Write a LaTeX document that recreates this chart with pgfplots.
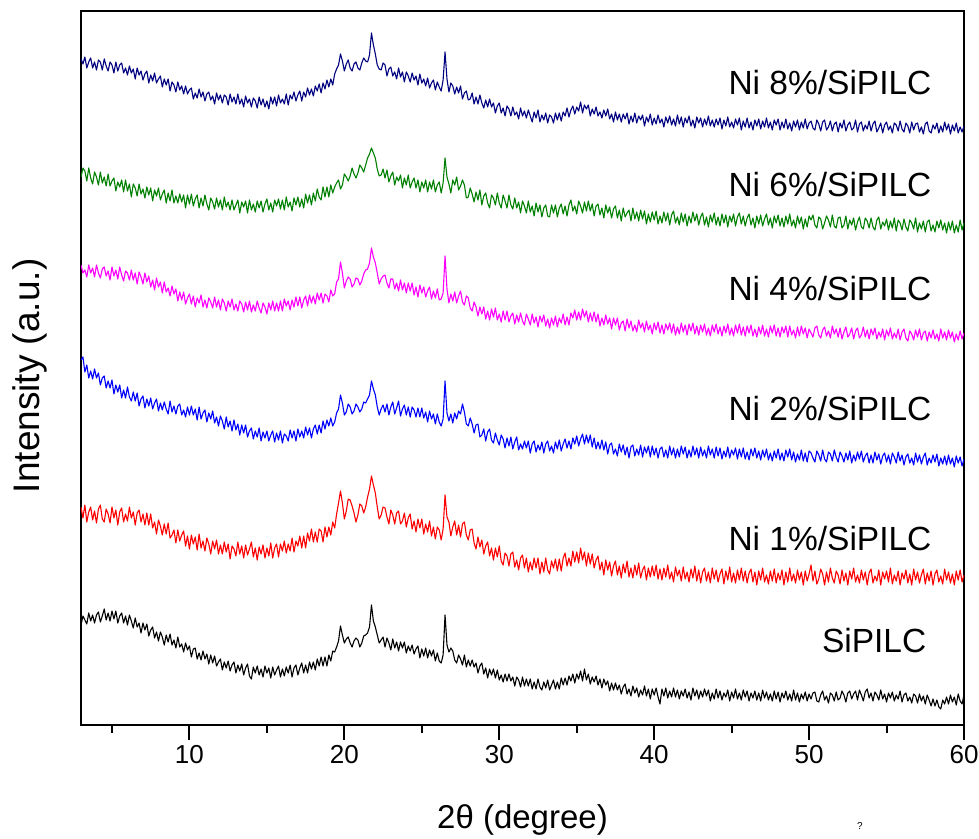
\documentclass[border=0pt]{standalone}
\usepackage{fontspec}
\setmainfont{Liberation Sans}
\usepackage{pgfplots}
\usepackage{pgfplotstable}
\pgfplotsset{compat=1.18}
\definecolor{navyc}{RGB}{0,0,128}
\definecolor{greenc}{RGB}{0,128,0}
\definecolor{magc}{RGB}{255,0,255}
\definecolor{bluec}{RGB}{0,0,255}
\definecolor{redc}{RGB}{255,0,0}
% columns: a = Ni 8%, b = Ni 6%, c = Ni 4%, d = Ni 2%, e = Ni 1%, f = SiPILC (offset intensities)
\pgfplotstableread{
x a b c d e f
3.000 666 548 460 365 218 100
3.125 661 557 452 368 207 109
3.250 668 554 455 353 220 105
3.375 657 544 448 360 203 101
3.500 663 557 460 347 213 112
3.625 667 547 452 354 218 104
3.750 657 541 457 346 205 110
3.875 663 553 448 356 214 102
4.000 655 548 460 347 202 110
4.125 665 540 452 352 216 113
4.250 663 553 447 340 220 103
4.375 655 542 456 347 206 109
4.500 666 548 458 349 203 116
4.625 659 539 449 337 216 105
4.750 654 551 454 344 211 112
4.875 663 539 445 337 202 104
5.000 660 544 458 345 218 114
5.125 652 547 449 331 207 106
5.250 663 534 455 340 215 114
5.375 654 543 446 333 200 102
5.500 660 538 458 340 213 109
5.625 662 545 450 327 217 112
5.750 652 533 444 335 203 102
5.875 657 545 454 327 211 109
6.000 650 534 452 338 204 100
6.125 659 541 445 328 218 110
6.250 652 528 455 324 207 104
6.375 656 541 445 333 213 97
6.500 646 537 452 324 200 107
6.625 657 529 441 332 212 98
6.750 650 541 453 319 215 102
6.875 654 531 448 326 203 92
7.000 645 536 441 329 211 102
7.125 651 527 452 317 200 95
7.250 654 538 443 326 212 101
7.375 642 530 449 319 200 89
7.500 650 537 438 327 211 95
7.625 644 524 445 316 197 98
7.750 652 535 435 322 203 87
7.875 642 529 447 326 191 93
8.000 646 537 438 314 205 84
8.125 649 525 443 322 199 93
8.250 638 531 432 315 190 88
8.375 646 535 443 323 201 80
8.500 640 522 433 316 191 90
8.625 646 532 437 311 202 83
8.750 634 524 429 324 187 91
8.875 643 535 439 313 190 80
9.000 640 522 431 319 195 85
9.125 633 529 436 311 182 77
9.250 643 522 424 319 195 88
9.375 635 531 433 321 184 78
9.500 639 523 425 310 190 81
9.625 631 530 433 315 194 73
9.750 639 517 421 308 179 82
9.875 631 530 427 318 189 75
10.000 635 521 431 310 176 79
10.125 637 531 421 319 190 68
10.250 626 519 429 310 181 76
10.375 632 526 418 316 188 77
10.500 627 530 427 305 175 66
10.625 636 517 422 318 191 72
10.750 628 527 430 306 177 65
10.875 633 519 418 312 184 74
11.000 624 530 425 315 174 66
11.125 631 521 417 303 187 71
11.250 633 515 427 312 181 61
11.375 625 527 423 306 171 70
11.500 629 523 417 314 184 62
11.625 621 516 428 302 176 69
11.750 632 527 418 308 185 59
11.875 625 518 425 299 171 63
12.000 630 525 415 309 180 66
12.125 622 515 426 304 171 55
12.250 630 528 422 296 183 63
12.375 628 518 414 308 173 57
12.500 620 523 424 298 181 64
12.625 631 515 418 304 166 54
12.750 623 525 426 294 179 60
12.875 628 515 415 305 176 63
13.000 621 520 421 295 169 52
13.125 631 525 414 301 183 60
13.250 621 512 424 290 171 54
13.375 626 523 421 300 179 61
13.500 618 518 413 292 167 50
13.625 629 524 423 300 180 57
13.750 622 512 415 288 170 61
13.875 626 525 424 294 176 49
14.000 618 515 413 297 183 46
14.125 627 521 420 286 168 58
14.250 624 513 414 294 177 52
14.375 617 524 424 288 165 59
14.500 628 517 417 297 178 50
14.625 620 524 412 284 171 56
14.750 626 513 422 293 180 48
14.875 618 521 418 287 167 59
15.000 624 526 411 294 177 52
15.125 616 515 422 284 169 57
15.250 628 522 415 290 182 47
15.375 621 513 424 294 167 58
15.500 628 525 414 283 177 50
15.625 619 519 422 292 181 55
15.750 630 526 414 285 168 59
15.875 622 516 424 294 181 48
16.000 626 525 414 282 174 56
16.125 621 515 426 291 184 49
16.250 631 528 419 289 172 58
16.375 620 518 424 284 181 52
16.500 630 523 415 295 174 60
16.625 626 514 425 287 187 48
16.750 633 527 418 294 173 57
16.875 624 520 428 284 184 60
17.000 630 528 419 296 179 50
17.125 634 518 428 288 189 57
17.250 624 526 417 294 177 62
17.375 633 517 425 287 189 52
17.500 628 531 429 298 177 60
17.625 637 522 419 290 192 52
17.750 630 530 430 297 184 63
17.875 636 520 422 287 196 56
18.000 629 532 429 296 183 63
18.125 639 524 421 300 193 55
18.250 634 536 432 291 183 66
18.375 641 528 425 300 196 59
18.500 632 525 432 292 194 68
18.625 642 538 422 304 183 59
18.750 636 528 431 296 198 68
18.875 645 538 429 305 188 59
19.000 638 528 423 299 198 70
19.125 646 540 435 307 190 64
19.250 640 532 429 299 203 74
19.375 651 538 431 303 197 73
19.500 656 542 443 312 211 78
19.625 660 545 446 316 222 84
19.750 671 536 463 330 234 99
19.875 664 540 452 322 222 90
20.000 654 551 437 310 206 82
20.125 661 548 444 313 214 86
20.250 665 544 448 321 226 88
20.375 657 549 446 318 225 82
20.500 654 557 438 311 219 78
20.625 661 551 441 314 212 84
20.750 663 547 447 321 203 87
20.875 657 552 446 318 210 85
21.000 655 560 440 313 221 78
21.125 662 557 444 316 219 82
21.250 667 553 451 323 212 89
21.375 664 560 455 322 218 90
21.500 663 567 456 326 228 92
21.625 670 571 462 330 236 98
21.750 692 577 477 344 249 120
21.875 680 572 468 336 240 104
22.000 671 567 462 330 232 98
22.125 660 556 452 318 218 90
22.250 656 549 441 310 206 82
22.375 655 550 446 316 210 85
22.500 662 556 449 320 218 88
22.625 660 547 450 313 217 78
22.750 649 555 442 321 208 87
22.875 656 543 437 310 201 82
23.000 658 549 446 318 215 75
23.125 649 553 446 323 210 86
23.250 653 540 436 311 201 77
23.375 646 548 442 317 212 83
23.500 657 544 434 324 214 74
23.625 648 550 445 309 201 83
23.750 653 537 435 316 204 77
23.875 643 547 442 320 212 83
24.000 653 540 432 310 198 72
24.125 649 550 442 318 207 79
24.250 643 537 434 308 211 74
24.375 652 543 442 318 196 80
24.500 645 547 430 315 204 71
24.625 649 537 438 308 193 76
24.750 640 545 428 317 206 79
24.875 651 533 440 308 197 67
25.000 642 543 432 317 206 76
25.125 646 537 438 307 191 69
25.250 639 545 428 313 201 77
25.375 647 533 434 303 193 67
25.500 637 543 438 314 204 75
25.625 642 536 426 306 189 69
25.750 645 545 434 311 198 75
25.875 635 533 427 301 186 64
26.000 643 540 436 311 198 72
26.125 638 543 425 303 195 64
26.250 634 532 426 299 185 62
26.375 645 542 432 306 196 70
26.500 673 567 469 344 230 110
26.625 646 548 436 312 208 80
26.750 633 541 422 304 203 73
26.875 642 532 431 311 189 77
27.000 639 545 424 302 198 74
27.125 631 540 433 312 204 65
27.250 638 548 422 306 190 62
27.375 632 535 429 314 200 70
27.500 639 539 434 311 188 66
27.625 626 545 423 321 201 60
27.750 632 540 420 313 203 70
27.875 634 527 429 301 190 58
28.000 625 528 427 299 185 65
28.125 626 537 417 307 195 59
28.250 632 531 414 301 196 65
28.375 621 523 423 292 182 58
28.500 628 533 418 300 176 62
28.625 621 525 409 301 188 52
28.750 630 535 418 288 178 59
28.875 622 520 411 290 185 62
29.000 617 529 418 296 171 51
29.125 625 532 406 284 179 57
29.250 618 522 414 293 183 47
29.375 626 517 405 296 169 56
29.500 618 530 416 285 177 50
29.625 622 527 408 282 165 56
29.750 612 520 417 292 177 47
29.875 619 532 405 285 168 55
30.000 622 522 411 280 179 45
30.125 612 517 403 290 164 50
30.250 617 530 414 286 160 43
30.375 609 524 405 277 172 51
30.500 619 517 414 287 169 44
30.625 616 530 403 279 159 51
30.750 609 520 409 288 171 44
30.875 618 516 412 276 173 48
31.000 610 527 401 283 158 39
31.125 613 517 410 288 165 48
31.250 606 523 403 275 155 45
31.375 617 512 412 281 167 38
31.500 609 524 404 276 170 48
31.625 614 519 400 284 157 39
31.750 607 512 411 277 167 46
31.875 615 524 406 284 153 39
32.000 609 513 400 272 163 46
32.125 603 519 411 281 155 36
32.250 613 509 402 284 167 43
32.375 607 522 408 273 157 36
32.500 615 513 398 280 167 46
32.625 603 520 409 275 151 38
32.750 610 508 403 283 163 35
32.875 605 517 410 272 153 43
33.000 612 520 399 281 167 37
33.125 602 509 406 284 155 45
33.250 610 508 397 274 151 35
33.375 608 520 407 279 164 40
33.500 602 512 400 272 157 45
33.625 612 520 409 283 166 36
33.750 605 508 398 276 154 43
33.875 612 517 407 285 166 36
34.000 604 521 402 274 154 47
34.125 613 511 411 281 167 40
34.250 609 519 400 286 172 47
34.375 617 509 408 277 159 40
34.500 608 520 400 284 167 49
34.625 615 525 412 276 159 44
34.750 619 514 407 287 174 51
34.875 611 519 415 281 163 42
35.000 618 511 405 289 173 51
35.125 614 524 413 279 162 46
35.250 623 519 405 286 177 54
35.375 612 512 416 291 165 44
35.500 620 523 408 281 173 56
35.625 616 514 414 290 159 45
35.750 620 524 403 282 172 51
35.875 609 514 412 290 161 41
36.000 616 521 404 278 171 48
36.125 611 509 413 287 157 43
36.250 618 519 403 276 165 49
36.375 609 521 411 283 169 40
36.500 613 510 399 276 155 46
36.625 607 517 407 285 163 37
36.750 615 507 400 275 150 46
36.875 609 520 410 283 165 40
37.000 616 512 401 271 155 44
37.125 606 518 407 280 163 34
37.250 611 507 396 282 149 42
37.375 603 516 407 271 159 35
37.500 613 519 400 276 164 42
37.625 605 507 407 269 150 35
37.750 611 515 395 281 159 40
37.875 603 504 402 273 147 31
38.000 611 517 404 280 161 38
38.125 606 508 394 270 152 41
38.250 612 512 406 278 164 31
38.375 601 515 397 267 148 36
38.500 609 504 404 278 157 29
38.625 603 517 394 280 147 39
38.750 612 506 400 269 160 32
38.875 602 513 393 276 150 37
39.000 609 504 405 270 162 28
39.125 605 515 397 280 147 35
39.250 610 506 402 268 155 30
39.375 599 514 393 278 159 39
39.500 608 501 404 272 145 29
39.625 603 511 395 279 157 36
39.750 611 503 400 268 148 26
39.875 600 513 391 279 159 36
40.000 607 505 402 270 149 30
40.125 601 514 395 277 160 37
40.250 610 501 403 267 146 28
40.375 602 509 392 276 156 21
40.500 606 502 400 278 145 36
40.625 598 513 391 268 157 29
40.750 608 504 401 275 148 37
40.875 602 512 395 267 160 27
41.000 609 500 402 279 146 34
41.125 600 510 392 270 153 28
41.250 606 514 401 277 143 37
41.375 599 502 390 267 158 28
41.500 610 508 398 276 149 35
41.625 601 500 391 268 155 26
41.750 608 512 402 279 144 34
41.875 598 503 393 271 158 29
42.000 607 511 400 278 146 36
42.125 602 499 390 267 153 27
42.250 609 509 401 275 143 33
42.375 599 502 394 268 156 25
42.500 605 513 402 279 147 37
42.625 597 504 391 270 159 29
42.750 608 511 399 277 144 35
42.875 602 500 390 267 155 26
43.000 607 508 400 278 142 34
43.125 598 512 393 269 153 28
43.250 606 500 401 275 157 36
43.375 600 508 390 267 144 29
43.500 609 498 397 279 153 35
43.625 599 510 389 270 142 24
43.750 605 503 400 276 157 32
43.875 598 512 393 267 146 26
44.000 606 500 401 278 155 36
44.125 600 508 391 269 143 27
44.250 607 499 398 277 151 34
44.375 596 511 389 266 156 25
44.500 605 502 399 274 141 32
44.625 599 510 392 268 154 28
44.750 608 498 401 278 145 35
44.875 598 509 390 267 158 24
45.000 603 503 397 275 143 33
45.125 597 511 389 270 152 27
45.250 606 499 400 277 142 36
45.375 600 508 392 266 155 26
45.500 607 512 401 276 145 32
45.625 595 501 390 268 157 25
45.750 604 509 398 277 144 35
45.875 598 499 389 266 154 28
46.000 607 507 399 273 142 34
46.125 597 511 392 265 152 24
46.250 603 500 400 276 156 32
46.375 595 507 389 269 143 27
46.500 605 497 396 277 153 34
46.625 599 509 388 267 140 25
46.750 606 501 398 274 154 32
46.875 596 510 391 265 145 24
47.000 604 499 400 275 157 35
47.125 598 506 389 268 143 27
47.250 607 511 396 276 150 33
47.375 597 500 388 265 141 25
47.500 603 507 399 272 154 31
47.625 595 497 392 264 144 24
47.750 605 509 400 274 156 34
47.875 600 502 389 267 142 26
48.000 606 510 397 276 152 33
48.125 595 499 388 265 145 23
48.250 603 507 398 272 155 32
48.375 597 498 392 264 140 27
48.500 606 509 399 275 153 34
48.625 596 501 388 268 143 25
48.750 602 511 399 276 157 31
48.875 594 499 390 265 144 24
49.000 604 505 395 273 151 35
49.125 598 497 387 263 142 25
49.250 605 509 398 271 155 32
49.375 595 501 389 265 145 23
49.500 603 508 399 275 153 31
49.625 597 496 391 264 140 26
49.750 606 506 397 272 154 33
49.875 596 498 387 263 144 24
50.000 602 509 396 274 151 31
50.125 604 505 392 272 160 26
50.250 597 510 388 267 144 32
50.375 595 500 397 263 154 33
50.500 605 497 399 274 141 24
50.625 601 508 390 270 146 23
50.750 594 506 387 264 156 30
50.875 603 496 395 275 151 34
51.000 605 502 398 266 140 25
51.125 595 509 389 263 153 29
51.250 598 505 394 273 143 22
51.375 604 498 387 271 157 32
51.500 594 510 399 264 147 30
51.625 601 499 391 275 142 24
51.750 603 497 396 268 154 33
51.875 593 507 388 263 150 25
52.000 602 508 397 273 141 27
52.125 597 497 386 269 155 34
52.250 605 500 393 263 144 30
52.375 594 509 398 272 152 23
52.500 600 496 388 265 140 32
52.625 603 505 391 274 154 34
52.750 595 500 397 262 146 26
52.875 597 507 386 270 157 31
53.000 605 495 394 264 143 34
53.125 593 503 397 273 150 25
53.250 601 508 387 266 142 35
53.375 603 498 390 274 155 30
53.500 594 496 398 263 145 24
53.625 600 507 388 269 153 33
53.750 596 504 395 272 140 36
53.875 604 497 386 262 152 27
54.000 594 507 396 270 156 32
54.125 601 498 390 262 142 24
54.250 604 495 397 273 149 33
54.375 593 505 386 265 144 30
54.500 597 508 393 271 155 25
54.625 602 496 388 261 140 35
54.750 592 503 396 269 153 26
54.875 600 499 385 272 146 31
55.000 603 506 395 263 154 23
55.125 595 495 389 270 143 32
55.250 599 504 397 261 157 27
55.375 592 497 386 272 141 33
55.500 602 507 392 268 150 24
55.625 600 494 387 262 144 30
55.750 594 505 396 273 154 26
55.875 604 502 385 264 140 34
56.000 596 495 393 270 152 23
56.125 593 506 396 260 146 30
56.250 602 498 387 268 155 32
56.375 599 494 384 271 142 24
56.500 592 505 394 262 151 28
56.625 603 502 391 267 140 22
56.750 595 496 385 260 156 31
56.875 601 507 395 272 145 29
57.000 602 493 388 263 153 22
57.125 593 502 396 270 142 31
57.250 598 496 385 261 150 24
57.375 591 504 392 268 156 29
57.500 601 493 394 272 141 21
57.625 603 503 384 260 152 30
57.750 594 505 393 267 144 25
57.875 592 494 387 262 154 19
58.000 600 500 395 270 140 26
58.125 596 493 386 263 151 19
58.250 602 504 391 271 155 25
58.375 592 497 384 259 143 18
58.500 599 505 396 267 149 16
58.625 593 495 387 261 141 25
58.750 603 502 393 269 156 21
58.875 595 492 385 260 145 28
59.000 601 503 395 270 153 21
59.125 591 495 387 261 142 30
59.250 600 504 393 267 151 23
59.375 594 492 383 258 140 28
59.500 602 500 391 269 154 20
59.625 592 493 385 262 145 31
59.750 598 505 394 268 155 24
59.875 593 495 386 259 143 21
60.000 599 502 392 266 150 30
}\xrd
\begin{document}
\begin{tikzpicture}
\useasboundingbox (-81pt,-113pt) rectangle (898pt,725pt);
\begin{axis}[
  at={(0pt,0pt)}, anchor=south west,
  scale only axis, width=883pt, height=714pt,
  xmin=3, xmax=60, ymin=0, ymax=714,
  xtick={10,20,30,40,50,60},
  minor xtick={5,15,25,35,45,55},
  ytick=\empty,
  xtick pos=bottom,
  tick align=outside,
  major tick length=15pt,
  minor tick length=8pt,
  every tick/.style={black, line width=2pt},
  axis line style={line width=2.2pt},
  /pgf/number format/assume math mode=true,
  xticklabel style={font=\fontsize{26}{30}\selectfont, yshift=-2pt},
  xlabel={2θ (degree)},
  ylabel={Intensity (a.u.)},
  xlabel style={font=\fontsize{33}{38}\selectfont, at={(rel axis cs:0.5,-0.133)}, anchor=center},
  ylabel style={font=\fontsize{37}{42}\selectfont, at={(rel axis cs:-0.058,0.489)}, anchor=center},
  every axis plot/.append style={line width=1.1pt, line join=round, mark=none},
]
\addplot[color=navyc] table[x=x,y=a]{\xrd};
\addplot[color=greenc] table[x=x,y=b]{\xrd};
\addplot[color=magc] table[x=x,y=c]{\xrd};
\addplot[color=bluec] table[x=x,y=d]{\xrd};
\addplot[color=redc] table[x=x,y=e]{\xrd};
\addplot[color=black] table[x=x,y=f]{\xrd};
\node[font=\fontsize{33.5}{40}\selectfont] at (axis cs:51.35,642) {Ni 8\%/SiPILC};
\node[font=\fontsize{33.5}{40}\selectfont] at (axis cs:51.35,540) {Ni 6\%/SiPILC};
\node[font=\fontsize{33.5}{40}\selectfont] at (axis cs:51.35,436) {Ni 4\%/SiPILC};
\node[font=\fontsize{33.5}{40}\selectfont] at (axis cs:51.35,316) {Ni 2\%/SiPILC};
\node[font=\fontsize{33.5}{40}\selectfont] at (axis cs:51.35,186) {Ni 1\%/SiPILC};
\node[font=\fontsize{33.5}{40}\selectfont] at (axis cs:54.2,84) {SiPILC};
\end{axis}
\node[font=\fontsize{10}{12}\selectfont] at (779pt,-101pt) {?};
\end{tikzpicture}
\end{document}
